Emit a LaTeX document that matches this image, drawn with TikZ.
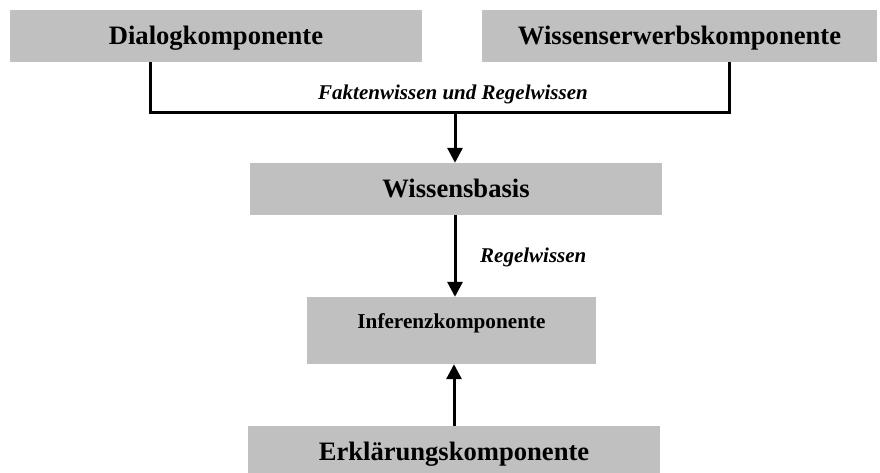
\documentclass[tikz,border=0pt]{standalone}
\usepackage{fontspec}
\setmainfont{Liberation Serif}
\usetikzlibrary{arrows.meta}
\definecolor{boxgray}{RGB}{192,192,192}
\tikzset{
  box/.style={fill=boxgray, draw=none, inner sep=0pt, font=\fontsize{26.6}{30}\selectfont\bfseries, text height=17.6pt, text depth=0pt},
  smallbox/.style={box, font=\fontsize{21.2}{25}\selectfont\bfseries, text height=14pt, text depth=19pt},
  conn/.style={line width=3pt},
  arr/.style={line width=3pt, -{Triangle[width=15pt,length=15pt]}},
  lbl/.style={font=\fontsize{21}{25}\selectfont\bfseries\itshape, inner sep=0pt}
}
\begin{document}
\begin{tikzpicture}[x=1pt,y=-1pt]
\clip (0,0) rectangle (880,472);
\fill[white] (0,0) rectangle (880,472);
\node[box, minimum width=412pt, minimum height=52pt] (dialog) at (216,36) {Dialogkomponente};
\node[box, minimum width=395pt, minimum height=52pt] (wissen) at (679.5,36) {Wissenserwerbskomponente};
\node[box, minimum width=412pt, minimum height=52pt] (basis) at (456,189) {Wissensbasis};
\node[smallbox, minimum width=289pt, minimum height=67pt] (inferenz) at (451.5,330.5) {Inferenzkomponente};
\node[box, minimum width=412pt, minimum height=52pt] (erkl) at (454,452) {Erklärungskomponente};
\coordinate (bus) at (455,112);
\draw[conn] ([xshift=-66pt]dialog.south) |- (bus) -| ([xshift=49.5pt]wissen.south);
\draw[arr] (bus) -- (bus |- basis.north);
\draw[arr] (bus |- basis.south) -- (bus |- inferenz.north);
\draw[arr] (erkl.north) -- (erkl.north |- inferenz.south);
\node[lbl, anchor=base] (fr) at (453,99) {Faktenwissen und Regelwissen};
\node[lbl, anchor=base west] (rw) at (480,262) {Regelwissen};
\end{tikzpicture}
\end{document}
